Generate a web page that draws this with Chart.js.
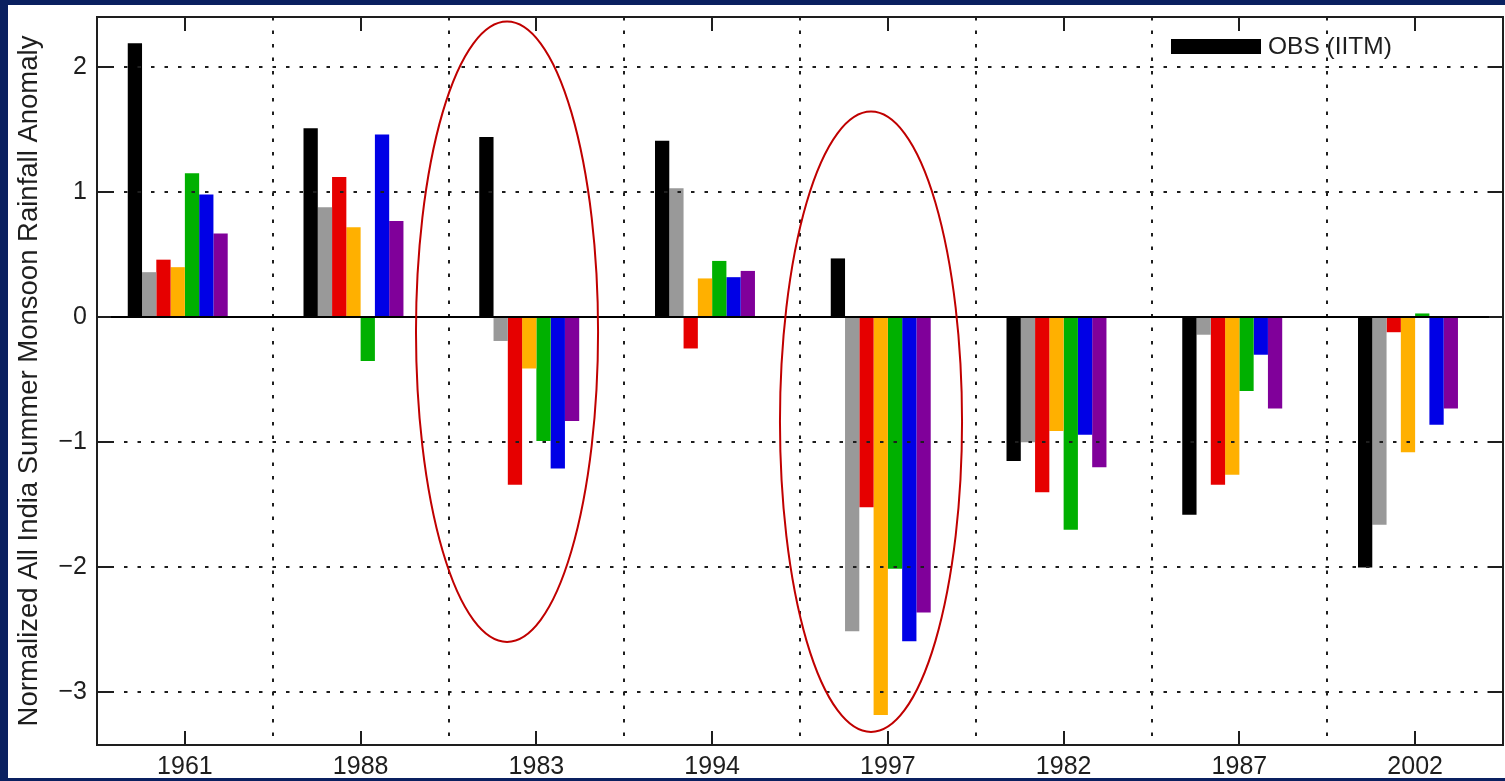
<!DOCTYPE html>
<html>
<head>
<meta charset="utf-8">
<script src="https://cdn.jsdelivr.net/npm/chart.js@4.4.1/dist/chart.umd.min.js"></script>
<style>
  html, body { margin: 0; padding: 0; width: 1505px; height: 781px; overflow: hidden; background: #0a2060; }
  #panel { position: absolute; left: 8px; top: 5px; width: 1497px; height: 773px; background: #ffffff; }
  canvas { display: block; }
</style>
</head>
<body>
<div id="panel"><canvas id="c" width="1497" height="773"></canvas></div>
<script>
// Years shown on the x axis
const years = ['1961', '1988', '1983', '1994', '1997', '1982', '1987', '2002'];

// Normalized anomalies, one array per series
const obsIITM  = [2.19, 1.51, 1.44, 1.41, 0.47, -1.15, -1.58, -2.00];
const model1   = [0.36, 0.88, -0.19, 1.03, -2.51, -1.00, -0.14, -1.66];
const model2   = [0.46, 1.12, -1.34, -0.25, -1.52, -1.40, -1.34, -0.12];
const model3   = [0.40, 0.72, -0.41, 0.31, -3.18, -0.91, -1.26, -1.08];
const model4   = [1.15, -0.35, -0.99, 0.45, -2.01, -1.70, -0.59, 0.03];
const model5   = [0.98, 1.46, -1.21, 0.32, -2.59, -0.94, -0.30, -0.86];
const model6   = [0.67, 0.77, -0.83, 0.37, -2.36, -1.20, -0.73, -0.73];
// eighth bar slot of each group is left empty
const emptySlot = [null, null, null, null, null, null, null, null];

// Y axis tick values
const yTicks = [-3, -2, -1, 0, 1, 2];

const FONT = '"Liberation Sans", Arial, Helvetica, sans-serif';
const INK = '#1e1e1e';

// Highlight ellipses, in axis units (category index, anomaly value)
const highlights = [
  { cx: 1.833, cy: -0.116, rx: 0.518, ry: 2.48 },
  { cx: 3.904, cy: -0.836, rx: 0.518, ry: 2.48 }
];

const decorations = {
  id: 'decorations',
  afterDatasetsDraw(chart) {
    const { ctx, chartArea: a, scales: { x, y } } = chart;
    const seg = (x1, y1, x2, y2) => { ctx.beginPath(); ctx.moveTo(x1, y1); ctx.lineTo(x2, y2); ctx.stroke(); };

    ctx.save();
    // dotted grid lines
    ctx.strokeStyle = INK;
    ctx.lineWidth = 2;
    ctx.setLineDash([3.5, 10]);
    yTicks.forEach(v => {
      if (v === 0) return;
      const py = Math.round(y.getPixelForValue(v));
      seg(a.left, py, a.right, py);
    });
    for (let i = 1; i < years.length; i++) {
      const px = Math.round((x.getPixelForValue(i - 1) + x.getPixelForValue(i)) / 2);
      seg(px, a.top, px, a.bottom);
    }
    ctx.setLineDash([]);

    // zero baseline
    ctx.strokeStyle = '#000';
    ctx.lineWidth = 2;
    const y0 = Math.round(y.getPixelForValue(0));
    seg(a.left, y0, a.right, y0);

    // axes box
    ctx.strokeStyle = INK;
    ctx.lineWidth = 2;
    ctx.strokeRect(a.left, a.top, a.right - a.left, a.bottom - a.top);

    // inward tick marks
    const tl = 14;
    yTicks.forEach(v => {
      const py = Math.round(y.getPixelForValue(v));
      seg(a.left, py, a.left + tl, py);
      seg(a.right - tl, py, a.right, py);
    });
    years.forEach((_, i) => {
      const px = Math.round(x.getPixelForValue(i));
      seg(px, a.bottom, px, a.bottom - tl);
      seg(px, a.top, px, a.top + tl);
    });

    // legend (first series only)
    const ds = chart.data.datasets[0];
    const lx = a.right - 332, ly = a.top + 22;
    ctx.fillStyle = ds.backgroundColor;
    ctx.fillRect(lx, ly, 90, 15);
    ctx.fillStyle = INK;
    ctx.font = '24.5px ' + FONT;
    ctx.textBaseline = 'middle';
    ctx.textAlign = 'left';
    ctx.fillText(ds.label, lx + 97, ly + 8);

    // highlight ellipses
    ctx.strokeStyle = '#c00000';
    ctx.lineWidth = 2;
    highlights.forEach(h => {
      const cx = x.getPixelForValue(h.cx);
      const rx = x.getPixelForValue(h.cx + h.rx) - cx;
      const cy = y.getPixelForValue(h.cy);
      const ry = y.getPixelForValue(h.cy - h.ry) - cy;
      ctx.beginPath();
      ctx.ellipse(cx, cy, rx, ry, 0, 0, Math.PI * 2);
      ctx.stroke();
    });
    ctx.restore();
  }
};

const bar = (label, data, color) => ({ label, data, backgroundColor: color, borderWidth: 0 });

new Chart(document.getElementById('c'), {
  type: 'bar',
  data: {
    labels: years,
    datasets: [
      bar('OBS (IITM)', obsIITM, '#000000'),
      bar('Model 1', model1, '#999999'),
      bar('Model 2', model2, '#e60000'),
      bar('Model 3', model3, '#ffb000'),
      bar('Model 4', model4, '#00b000'),
      bar('Model 5', model5, '#0000e6'),
      bar('Model 6', model6, '#80009a'),
      bar('', emptySlot, 'rgba(0,0,0,0)')
    ]
  },
  options: {
    responsive: false,
    animation: false,
    devicePixelRatio: 1,
    categoryPercentage: 0.65,
    barPercentage: 1.0,
    layout: { padding: { top: 12, right: 2, left: 0, bottom: 0 } },
    plugins: { legend: { display: false }, tooltip: { enabled: false } },
    scales: {
      x: {
        grid: { display: false, drawTicks: false },
        border: { display: false },
        ticks: { color: INK, font: { family: FONT, size: 25 }, padding: 7, maxRotation: 0 },
        afterFit(s) { s.height = 33; s.paddingLeft = 0; s.paddingRight = 0; }
      },
      y: {
        min: -3.42,
        max: 2.4,
        grid: { display: false, drawTicks: false },
        border: { display: false },
        afterBuildTicks(s) { s.ticks = yTicks.map(v => ({ value: v })); },
        ticks: {
          color: INK,
          font: { family: FONT, size: 25 },
          padding: 10,
          callback: v => (v < 0 ? '\u2212' + Math.abs(v) : String(v))
        },
        title: {
          display: true,
          text: 'Normalized All India Summer Monsoon Rainfall Anomaly',
          color: INK,
          font: { family: FONT, size: 27.5 },
          padding: { top: 5, bottom: 0 }
        },
        afterFit(s) { s.width = 89; s.paddingTop = 0; s.paddingBottom = 0; }
      }
    }
  },
  plugins: [decorations]
});
</script>
</body>
</html>
